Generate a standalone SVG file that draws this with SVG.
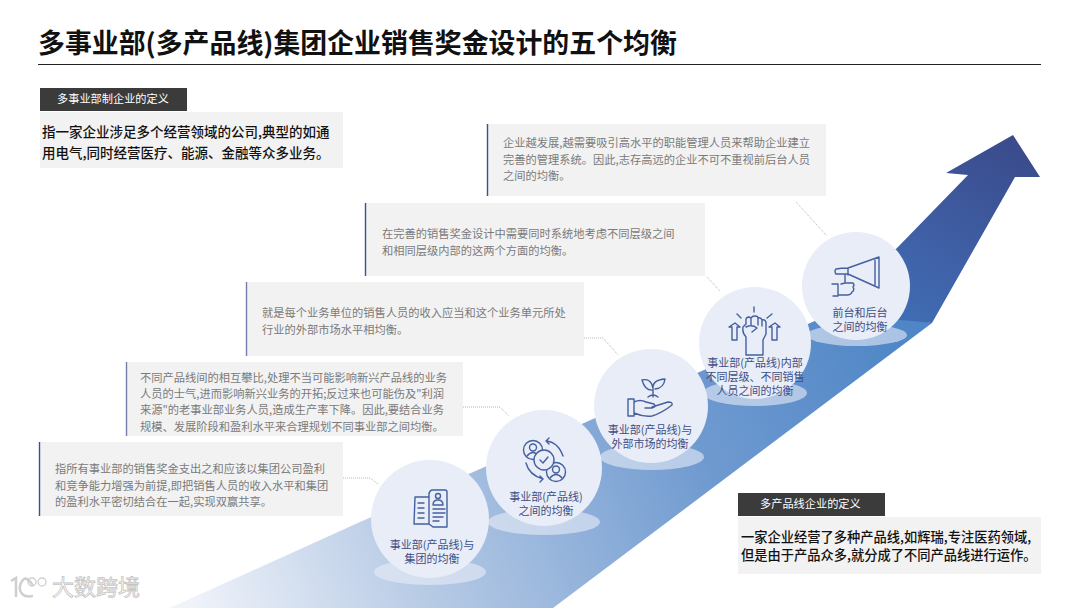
<svg xmlns="http://www.w3.org/2000/svg" width="1080" height="608" viewBox="0 0 1080 608">
<style>
text{font-family:"Noto Sans CJK SC","Liberation Sans",sans-serif}
.box{fill:#f2f2f2}
.bar{stroke:#3f4f8f;stroke-width:1.4}
.d{font-size:11.25px;fill:#7a7a7a}
.c{fill:#e8edf7}
.e{fill:#e8edf7;opacity:.6}
.l{font-size:11px;fill:#3f4d85;text-anchor:middle}
.i{fill:none;stroke:#44609f;stroke-width:1.4;stroke-linejoin:round;stroke-linecap:round}
.dot{fill:none;stroke:#a6a6a6;stroke-width:.8;stroke-dasharray:1 1}
.h{fill:#3b3b3b}
.ht{font-size:11.2px;fill:#fff}
.b{font-size:13.5px;fill:#111;font-weight:500}
.b2{font-size:13.25px;fill:#111;font-weight:500}
</style>
<defs>
<linearGradient id="lo" gradientUnits="userSpaceOnUse" x1="190" y1="608" x2="900" y2="330">
<stop offset="0" stop-color="#f0f3fa"/><stop offset=".3" stop-color="#b6cae5"/><stop offset=".7" stop-color="#6f9ad0"/><stop offset="1" stop-color="#4f86c6"/>
</linearGradient>
<linearGradient id="up" gradientUnits="userSpaceOnUse" x1="1000" y1="140" x2="890" y2="325">
<stop offset="0" stop-color="#3a4c8c"/><stop offset=".55" stop-color="#3f5fa5"/><stop offset="1" stop-color="#3f6fb5"/>
</linearGradient>
</defs>
<rect width="1080" height="608" fill="#fff"/>
<text x="38" y="53" font-size="26.900" font-weight="700" fill="#111">多事业部(多产品线)集团企业销售奖金设计的五个均衡</text>
<line x1="38" y1="64.500" x2="1041" y2="64.500" stroke="#222" stroke-width="1"/>

<g id="arrow">
<polygon points="170,608 360,522 817,320 870,310 932,323 553,608" fill="url(#lo)"/>
<path d="M815,320 L897,248 L968,175 L946,173 L1013,135 L1040,177 L1015,177 L932,323 Q870,316 815,320 Z" fill="url(#up)"/>
</g>

<g id="connectors">
<polyline class="dot" points="343,478 370,478 378,484"/>
<polyline class="dot" points="463,407 500,407 509,416"/>
<polyline class="dot" points="584,338 603,338 618,355"/>
<polyline class="dot" points="707,277 720,291"/>
<polyline class="dot" points="796,202 827,236"/>
</g>

<g id="def1">
<rect class="h" x="40" y="88" width="147" height="23"/>
<text class="ht" x="57" y="103">多事业部制企业的定义</text>
<rect class="box" x="40" y="112" width="303" height="56"/>
<text class="b" x="42" y="137">指一家企业涉足多个经营领域的公司,典型的如通</text>
<text class="b" x="42" y="158">用电气,同时经营医疗、能源、金融等众多业务。</text>
</g>

<g id="def2">
<rect class="h" x="738" y="493" width="147" height="23"/>
<text class="ht" x="760" y="508">多产品线企业的定义</text>
<rect class="box" x="738" y="517" width="303" height="57"/>
<text class="b2" x="741" y="542">一家企业经营了多种产品线,如辉瑞,专注医药领域,</text>
<text class="b2" x="741" y="560">但是由于产品众多,就分成了不同产品线进行运作。</text>
</g>

<g id="text1">
<rect class="box" x="39" y="442" width="304" height="74"/>
<line class="bar" x1="39.500" y1="442" x2="39.500" y2="516"/>
<text class="d" x="55" y="473">指所有事业部的销售奖金支出之和应该以集团公司盈利</text>
<text class="d" x="55" y="490">和竞争能力增强为前提,即把销售人员的收入水平和集团</text>
<text class="d" x="55" y="506">的盈利水平密切结合在一起,实现双赢共享。</text>
</g>
<g id="text2">
<rect class="box" x="126" y="362" width="337" height="74"/>
<line class="bar" x1="126.500" y1="362" x2="126.500" y2="436" stroke-opacity=".7"/>
<text class="d" x="140" y="382">不同产品线间的相互攀比,处理不当可能影响新兴产品线的业务</text>
<text class="d" x="140" y="398">人员的士气,进而影响新兴业务的开拓;反过来也可能伤及"利润</text>
<text class="d" x="140" y="414">来源"的老事业部业务人员,造成生产率下降。因此,要结合业务</text>
<text class="d" x="140" y="431">规模、发展阶段和盈利水平来合理规划不同事业部之间均衡。</text>
</g>
<g id="text3">
<rect class="box" x="246" y="282" width="338" height="74"/>
<line class="bar" x1="246.500" y1="282" x2="246.500" y2="356" stroke-opacity=".7"/>
<text class="d" x="262" y="317">就是每个业务单位的销售人员的收入应当和这个业务单元所处</text>
<text class="d" x="262" y="334">行业的外部市场水平相均衡。</text>
</g>
<g id="text4">
<rect class="box" x="365" y="203" width="340" height="73"/>
<line class="bar" x1="365.500" y1="203" x2="365.500" y2="276"/>
<text class="d" x="382" y="238">在完善的销售奖金设计中需要同时系统地考虑不同层级之间</text>
<text class="d" x="382" y="255">和相同层级内部的这两个方面的均衡。</text>
</g>
<g id="text5">
<rect class="box" x="487" y="124" width="339" height="72"/>
<line class="bar" x1="487.500" y1="124" x2="487.500" y2="196" stroke="#bbb"/>
<text class="d" x="503" y="147">企业越发展,越需要吸引高水平的职能管理人员来帮助企业建立</text>
<text class="d" x="503" y="164">完善的管理系统。因此,志存高远的企业不可不重视前后台人员</text>
<text class="d" x="503" y="180">之间的均衡。</text>
</g>

<g id="node1">
<ellipse class="e" cx="430" cy="572" rx="56" ry="13"/>
<circle class="c" cx="430" cy="519" r="59"/>
<path class="i" d="M429,497 L415,497 L414,524 L429,524 M429,493 L429,524 L433,527 M433,527 L447,527 L447,492 Q447,490 445,490 L432,490 Q429,491 429,495 M418,503 H424 M418,508 H424 M418,513 H424 M418,518 H424"/>
<circle class="i" cx="438" cy="496" r="2.500"/>
<path class="i" d="M433,505 Q433,500 438,500 Q443,500 443,505 Z M433,509 H445 M433,513 H445 M433,517 H443 M433,521 H439"/>
<text class="l" x="432" y="549">事业部(产品线)与</text>
<text class="l" x="432" y="563">集团的均衡</text>
</g>
<g id="node2">
<ellipse class="e" cx="544" cy="522" rx="56" ry="13"/>
<circle class="c" cx="544" cy="468" r="58"/>
<circle class="i" cx="533" cy="450" r="9.500"/>
<circle class="i" cx="533" cy="447.500" r="3.500"/>
<path class="i" d="M527,456 Q533,449 539,456"/>
<circle class="i" cx="556" cy="472" r="9.500"/>
<circle class="i" cx="556" cy="469.500" r="3.500"/>
<path class="i" d="M550,478 Q556,471 562,478"/>
<circle cx="544" cy="460" r="10" fill="#e8edf7" stroke="#44609f" stroke-width="1.400"/>
<path class="i" d="M540,460 L543,463 L548,457"/>
<path class="i" d="M546,441 Q558,442 563,456 M546,441 L549,438 M546,441 L549,444 M526,463 Q529,475 543,479 M543,479 L540,476 M543,479 L540,482"/>
<text class="l" x="546" y="501">事业部(产品线)</text>
<text class="l" x="546" y="515">之间的均衡</text>
</g>
<g id="node3">
<ellipse class="e" cx="652" cy="457" rx="52" ry="13"/>
<circle class="c" cx="651" cy="406" r="57"/>
<path class="i" d="M628,399 H634 V416 H628 Z M634,402 Q640,399 646,402 L654,404 Q657,407 652,408 L645,408 M652,407 L668,402 Q673,402 672,405 Q662,413 652,416 Q643,417 634,413"/>
<path class="i" d="M653,397 V385 M653,390 Q645,391 642,380 Q651,378 653,388 M653,387 Q653,380 665,379 Q664,388 655,389 M648,397 Q653,393 658,397"/>
<text class="l" x="650" y="434">事业部(产品线)与</text>
<text class="l" x="650" y="448">外部市场的均衡</text>
</g>
<g id="node4">
<ellipse class="e" cx="755" cy="393" rx="52" ry="13"/>
<circle class="c" cx="755" cy="343" r="56"/>
<path class="i" d="M746,355 V337 Q742,333 743,327 L746,324 V320 Q746,317 749,317 L751,318 Q752,316 755,316 Q758,316 758,318 Q761,317 762,320 Q765,319 766,322 V334 L763,340 V355 Z M746,327 Q752,324 757,328 L752,332 M751,318 V325 M758,318 V325 M762,320 V326"/>
<path class="i" d="M732,340 V327 H729 L735,323 L740,327 H737 V340 Z M772,340 V327 H769 L775,323 L780,327 H777 V340 Z"/>
<path class="i" d="M754,307 V312 M737,314 L741,318 M772,314 L767,318"/>
<text class="l" x="755" y="367">事业部(产品线)内部</text>
<text class="l" x="755" y="381">不同层级、不同销售</text>
<text class="l" x="755" y="395">人员之间的均衡</text>
</g>
<g id="node5">
<ellipse class="e" cx="857" cy="335" rx="50" ry="11"/>
<circle class="c" cx="856" cy="286" r="54"/>
<path class="i" d="M848,268 L879,257 V288 L848,274 Q841,274 836,274 Q834,271 836,269 Q841,268 848,268 Z M875,260 V286 M848,268 V275"/>
<path class="i" d="M845,275 V283 H853 Q855,285 853,287 Q855,290 852,292 Q851,295 847,295 H838 V284 L832,284 M841,284 L845,283 M833,296 H838"/>
<text class="l" x="860" y="317">前台和后台</text>
<text class="l" x="860" y="331">之间的均衡</text>
</g>

<g id="watermark">
<path d="M11,581 L16,578 V597 M33,586 Q28,577 24,579 Q19,583 20,590 Q22,598 33,596" fill="none" stroke="#cfcfcf" stroke-width="2.500"/>
<circle cx="32" cy="582" r="4" fill="none" stroke="#cfcfcf" stroke-width="1.300"/>
<circle cx="42" cy="582" r="4" fill="none" stroke="#cfcfcf" stroke-width="1.300"/>
<text x="52" y="595" font-size="22" fill="#fff" stroke="#c4c4c4" stroke-width=".8">大数跨境</text>
</g>
</svg>
